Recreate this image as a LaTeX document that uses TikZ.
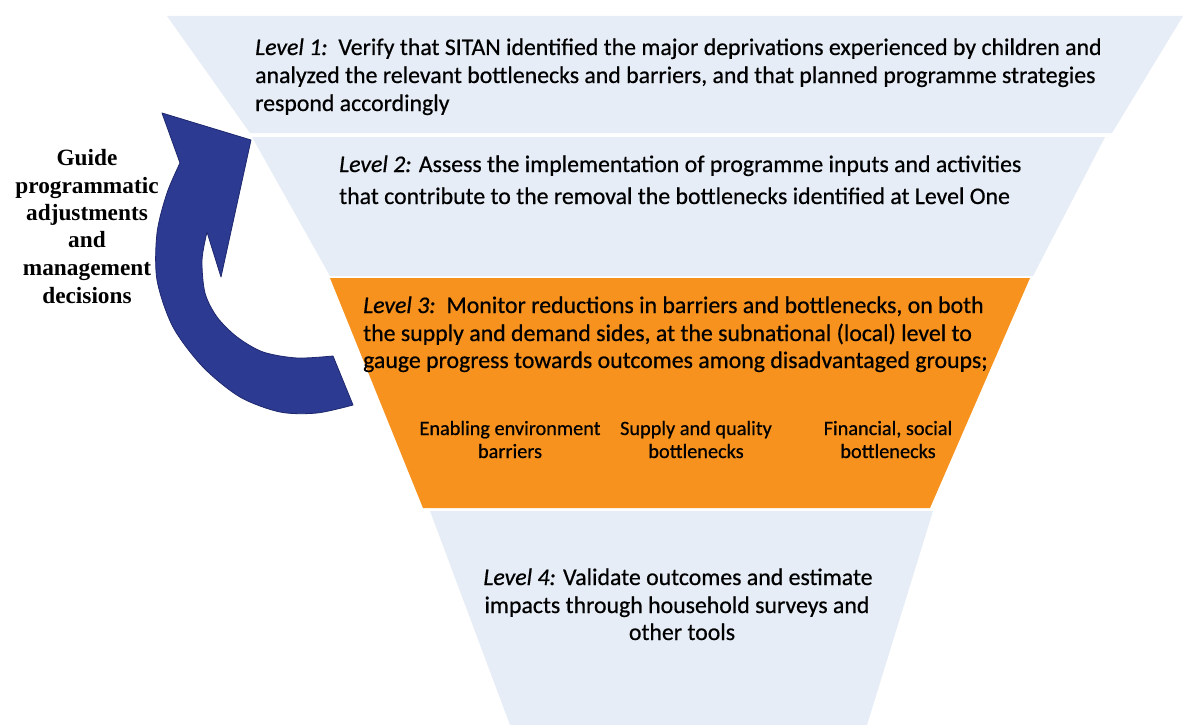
\documentclass[tikz,border=0pt]{standalone}
\usepackage{fontspec}
\setmainfont{Carlito}[RawFeature={embolden=0.6}]
\newfontfamily\guidefont{Liberation Serif}
\definecolor{bandblue}{RGB}{230,237,246}
\definecolor{bandorange}{RGB}{247,146,30}
\definecolor{arrowblue}{RGB}{44,58,145}
\definecolor{arrowline}{RGB}{30,40,110}
\begin{document}
\begin{tikzpicture}[x=1pt,y=-1pt,
  maintext/.style={inner sep=0pt,font=\fontsize{23.8}{28}\selectfont},
  smalltext/.style={inner sep=0pt,font=\fontsize{20.3}{24}\selectfont,anchor=base},
  guidetext/.style={inner sep=0pt,font=\guidefont\bfseries\fontsize{23.3}{27}\selectfont,anchor=base}]
\useasboundingbox (0,0) rectangle (1183,725);
\fill[white] (0,0) rectangle (1183,725);
% funnel bands
\fill[bandblue] (167,16) -- (1183,16) -- (1112,133) -- (250,133) -- cycle;
\fill[bandblue] (252,137) -- (1105,137) -- (1033,276) -- (330,276) -- cycle;
\fill[bandorange] (330,278) -- (1030,278) -- (930,508) -- (423,508) -- cycle;
\fill[bandblue] (430,511) -- (933,511) -- (867,725) -- (510,725) -- cycle;
% curved arrow
\filldraw[fill=arrowblue,draw=arrowline,line width=0.8pt,line join=round]
  plot[smooth] coordinates {(353,405) (317,413) (280,412) (240,397) (203,367) (173,327) (157,280) (157,233) (167,193) (180,163)}
  -- (162,113) -- (251,140) -- (221,277) -- (207,232)
  -- plot[smooth] coordinates {(207,232) (202,260) (205,293) (217,317) (237,337) (263,352) (297,358) (333,356)}
  -- cycle;
% level 1
\node[maintext,anchor=base west] (l1a) at (255,55) {\textit{Level 1:}\ \ Verify that SITAN identified the major deprivations experienced by children and};
\node[maintext,anchor=base west] (l1b) at (255,83) {analyzed the relevant bottlenecks and barriers, and that planned programme strategies};
\node[maintext,anchor=base west] (l1c) at (255,111) {respond accordingly};
% level 2
\node[maintext,anchor=base west] (l2a) at (339,172) {\textit{Level 2:} Assess the implementation of programme inputs and activities};
\node[maintext,anchor=base west] (l2b) at (339,204) {that contribute to the removal the bottlenecks identified at Level One};
% level 3
\node[maintext,anchor=base west] (l3a) at (363,313) {\textit{Level 3:}\ \ Monitor reductions in barriers and bottlenecks, on both};
\node[maintext,anchor=base west] (l3b) at (363,341) {the supply and demand sides, at the subnational (local) level to};
\node[maintext,anchor=base west] (l3c) at (363,368) {gauge progress towards outcomes among disadvantaged groups;};
\node[smalltext] (e1) at (510,435) {Enabling environment};
\node[smalltext] (e2) at (510,458) {barriers};
\node[smalltext] (s1) at (696,435) {Supply and quality};
\node[smalltext] (s2) at (696,458) {bottlenecks};
\node[smalltext] (f1) at (888,435) {Financial, social};
\node[smalltext] (f2) at (888,458) {bottlenecks};
% level 4
\node[maintext,anchor=base] (l4a) at (678,585) {\textit{Level 4:} Validate outcomes and estimate};
\node[maintext,anchor=base] (l4b) at (677,613) {impacts through household surveys and};
\node[maintext,anchor=base] (l4c) at (682,640) {other tools};
% guide text
\node[guidetext] (g1) at (87,165) {Guide};
\node[guidetext] (g2) at (87,193) {programmatic};
\node[guidetext] (g3) at (87,220) {adjustments};
\node[guidetext] (g4) at (87,247) {and};
\node[guidetext] (g5) at (87,275) {management};
\node[guidetext] (g6) at (87,303) {decisions};
\end{tikzpicture}
\end{document}
